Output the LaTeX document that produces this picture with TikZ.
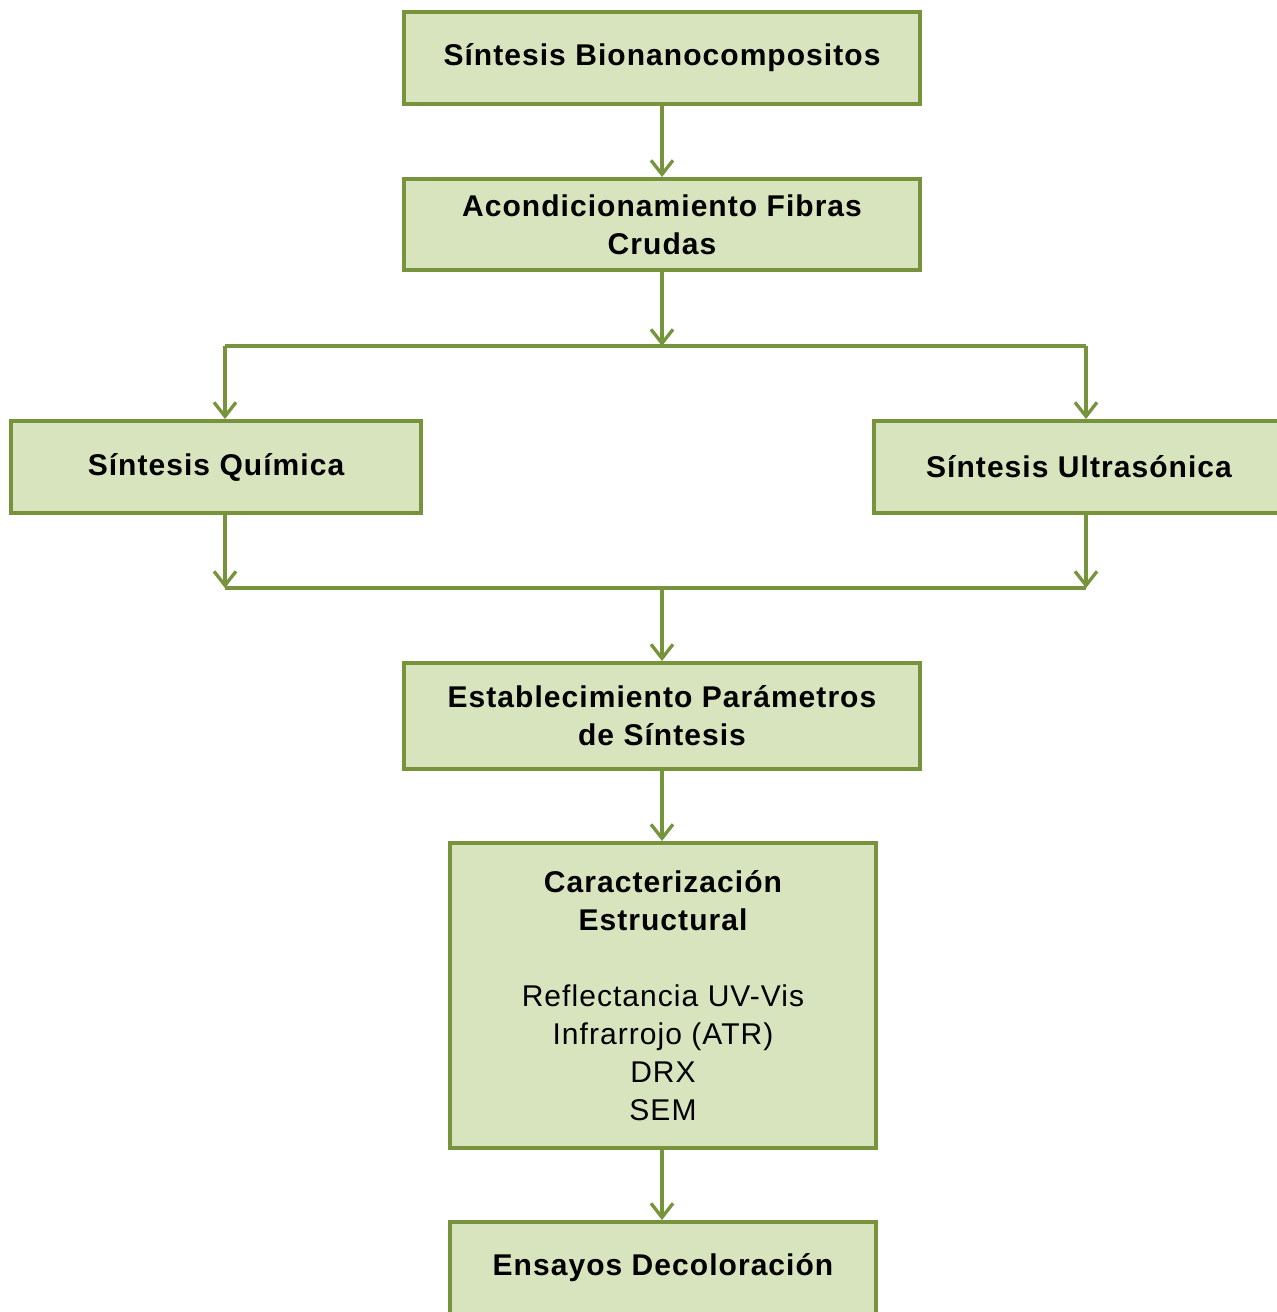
\documentclass[tikz,border=0pt]{standalone}
\usepackage{fontspec}
\setmainfont[LetterSpace=3.5]{Liberation Sans}
\usetikzlibrary{arrows.meta}
\definecolor{boxline}{HTML}{77933C}
\definecolor{boxfill}{HTML}{D7E4BD}
\begin{document}
\begin{tikzpicture}[x=1pt,y=-1pt,
  box/.style={draw=boxline, fill=boxfill, line width=4pt, inner sep=0pt,
    font=\fontsize{30}{38}\selectfont\bfseries, align=center},
  conn/.style={draw=boxline, line width=3.3pt},
  arr/.style={conn, -{Straight Barb[length=14pt,width=22pt,line width=3.3pt]}}]
\useasboundingbox (0,0) rectangle (1277,1312);
\fill[white] (0,0) rectangle (1277,1312);
\node[box, minimum width=516pt, minimum height=92pt] (b1) at (662,58) {Síntesis Bionanocompositos};
\node[box, minimum width=516pt, minimum height=91pt] (b2) at (662,224.5) {Acondicionamiento Fibras\\Crudas};
\node[box, minimum width=410pt, minimum height=92pt] (b3) at (216,467) {Síntesis Química};
\node[box, minimum width=410pt, minimum height=92pt] (b4) at (1079,467) {Síntesis Ultrasónica};
\node[box, minimum width=516pt, minimum height=106pt] (b5) at (662,716) {Establecimiento Parámetros\\de Síntesis};
\node[box, minimum width=426pt, minimum height=305pt] (b6) at (663,995.5) {Caracterización\\Estructural\\[38pt]\mdseries Reflectancia UV-Vis\\\mdseries Infrarrojo (ATR)\\\mdseries DRX\\\mdseries SEM};
\node[box, minimum width=426pt, minimum height=92pt] (b7) at (663,1268) {Ensayos Decoloración};
\coordinate (s1) at (662,346);
\coordinate (s1l) at (225,346);
\coordinate (s1r) at (1086,346);
\coordinate (j1) at (662,588);
\coordinate (j1l) at (225,588);
\coordinate (j1r) at (1086,588);
\draw[arr] (b1.south) -- (b2.south |- b2.north);
\draw[arr] (b2.south) -- (s1);
\draw[conn] (s1r) -- (s1l);
\draw[arr] (s1l) -- (s1l |- b3.north);
\draw[arr] (s1r) -- (s1r |- b4.north);
\draw[arr] (s1l |- b3.south) -- (j1l);
\draw[arr] (s1r |- b4.south) -- (j1r);
\draw[conn] (j1l) -- (j1r);
\draw[arr] (j1) -- (j1 |- b5.north);
\draw[arr] (b5.south) -- (b5.south |- b6.north);
\draw[arr] (b6.south -| b5.south) -- (b5.south |- b7.north);
\end{tikzpicture}
\end{document}
